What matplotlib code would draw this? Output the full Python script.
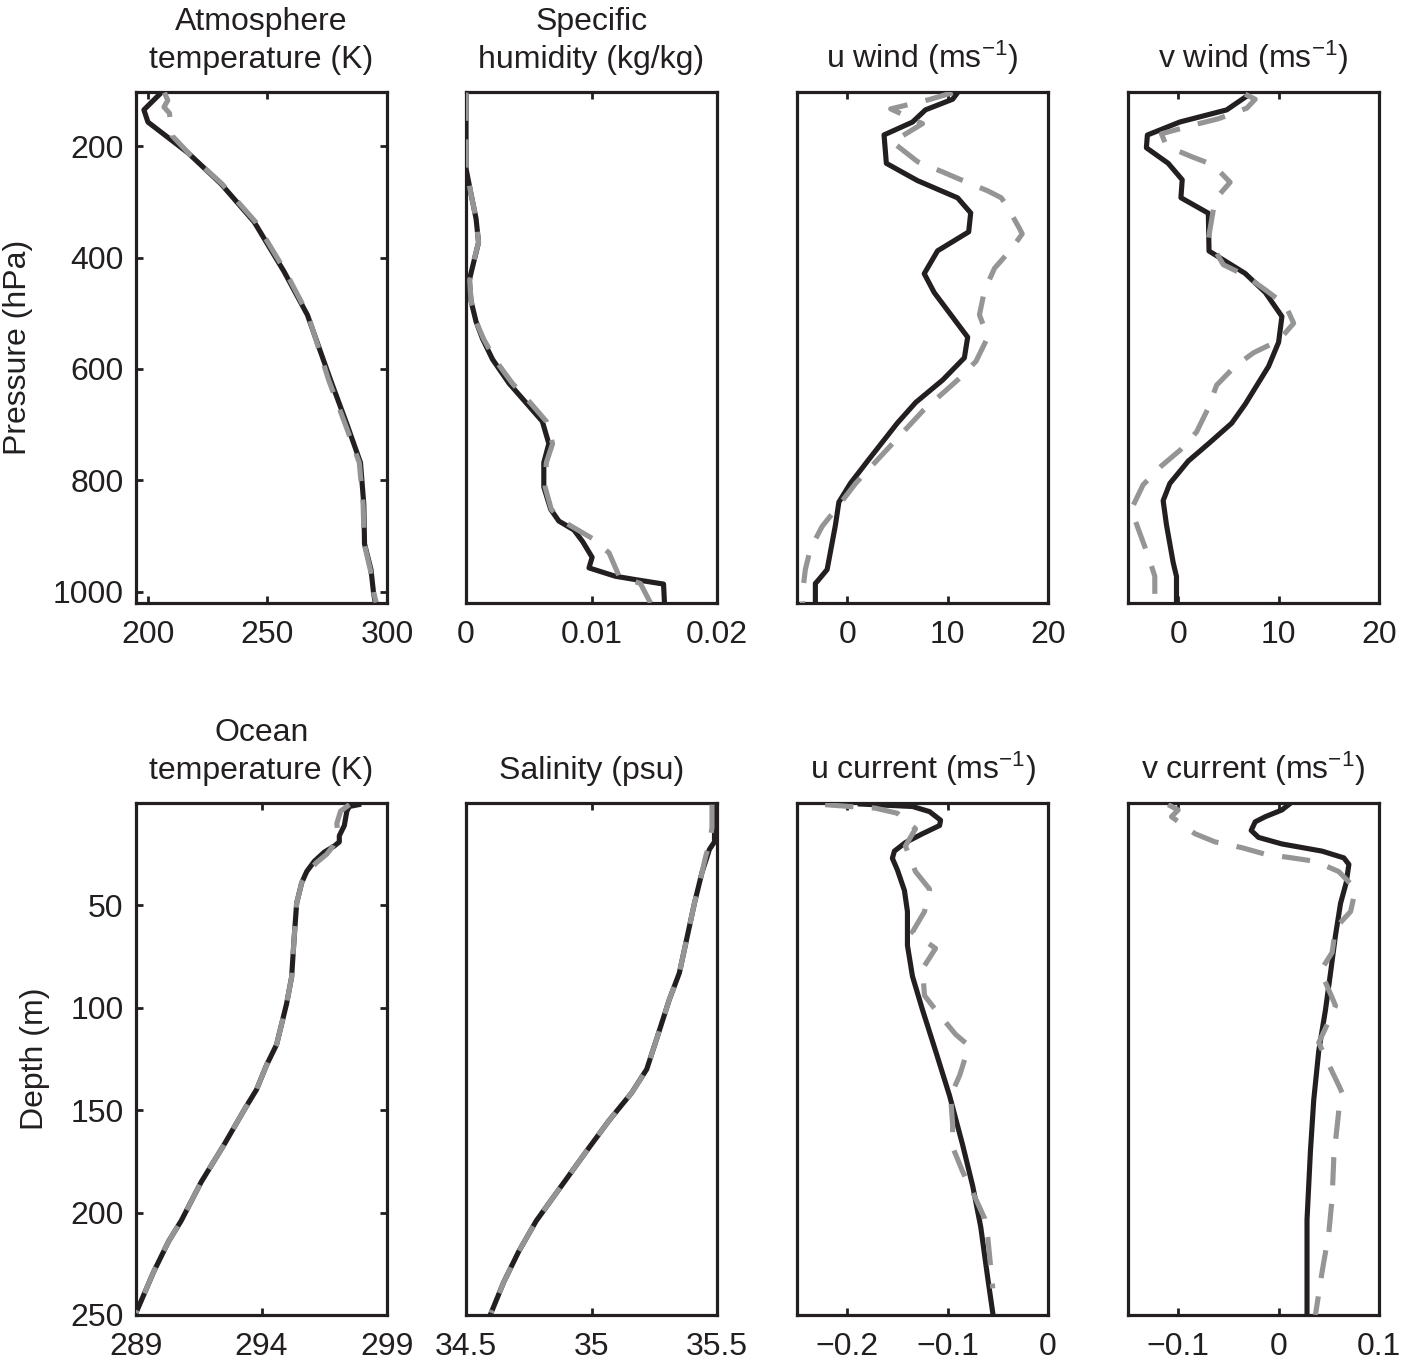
import matplotlib
matplotlib.use('Agg')
import matplotlib.pyplot as plt

plt.rcParams['font.family'] = ['Liberation Sans', 'DejaVu Sans']
plt.rcParams['mathtext.fontset'] = 'custom'
plt.rcParams['mathtext.rm'] = 'Liberation Sans'
plt.rcParams['mathtext.it'] = 'Liberation Sans'
plt.rcParams['mathtext.default'] = 'regular'

# ---------------- data ----------------
# Atmosphere temperature (K) vs pressure (hPa)
atmT_p = [104, 135, 157, 212, 268, 336, 425, 503, 620, 700, 768, 843, 914, 960, 1003, 1019]
atmT_black = [205.6, 198.3, 200.0, 216.7, 230.6, 244.4, 256.9, 266.7, 276.4, 283.3, 288.9, 290.3, 290.6, 293.3, 294.4, 295.1]
atmT_gray_p = [104, 118, 130, 141, 181, 215, 268, 336, 425, 503, 620, 700, 768, 843, 914, 960, 1003, 1019]
atmT_gray = [206.9, 208.3, 206.7, 209.0, 210.0, 217.5, 231.0, 245.0, 257.5, 267.0, 275.6, 282.6, 288.4, 290.0, 290.5, 293.0, 294.5, 295.5]

# Specific humidity (kg/kg)
q_p = [104, 240, 286, 330, 373, 416, 441, 478, 515, 546, 583, 626, 660, 694, 734, 768, 812, 852, 873, 889, 910, 938, 957, 972, 978, 986, 1022]
q_black = [0.0, 0.0, 0.0004, 0.0008, 0.001, 0.00053, 0.00026, 0.0004, 0.0008, 0.00132, 0.00212, 0.00344, 0.00476, 0.00608,
           0.0066, 0.0062, 0.0062, 0.00675, 0.0074, 0.0086, 0.0093, 0.01005, 0.0098, 0.0119, 0.0135, 0.01574, 0.01582]
q_gray_p = [104, 240, 286, 330, 373, 416, 441, 478, 515, 546, 583, 626, 660, 694, 734, 768, 812, 852, 873, 904, 930, 972, 985, 1020]
q_gray = [0.0, 0.0, 0.0004, 0.0008, 0.001, 0.0005, 0.0003, 0.0004, 0.0008, 0.0014, 0.0023, 0.0037, 0.0051, 0.0064,
          0.0069, 0.0064, 0.0063, 0.0068, 0.0077, 0.01005, 0.0114, 0.0122, 0.0139, 0.0147]

# u wind (m/s)
uw_p = [104, 116, 135, 157, 180, 231, 262, 293, 320, 354, 388, 429, 463, 543, 580, 620, 660, 697, 762, 805, 839, 880, 960, 978, 985, 1022]
uw_black = [11.0, 10.5, 7.8, 6.5, 3.67, 3.9, 7.0, 11.0, 12.3, 12.1, 9.0, 7.67, 8.67, 12.0, 11.67, 9.5, 6.83, 5.0, 2.17, 0.33,
            -0.83, -1.17, -2.0, -2.83, -3.17, -3.17]
uw_gray_p = [104.2, 116.6, 133.3, 159.8, 192.7, 227.9, 246.4, 261.8, 280.4, 292.7, 305.1, 348.3, 357.6, 385.4, 419.4, 459.6,
             502.8, 543.0, 586.2, 617.1, 675.8, 740.6, 805.5, 848.7, 882.7, 922.9, 960.0, 1009.4, 1021.7]
uw_gray = [10.5, 8.17, 4.33, 7.5, 4.5, 7.0, 9.5, 11.5, 14.0, 15.33, 15.83, 17.17, 17.43, 16.33, 14.67, 13.67, 13.17, 14.0,
           12.83, 11.17, 7.5, 4.17, 0.83, -1.0, -2.5, -3.67, -4.17, -4.5, -4.43]

# v wind (m/s)
vw_p = [110.4, 135.1, 156.8, 180.2, 203.1, 230.9, 260.5, 292.7, 320.5, 388.4, 428.6, 462.6, 505.8, 552.1, 595.4, 663.4,
        697.3, 734.4, 765.3, 805.4, 836.3, 879.6, 947.5, 972.3, 1021.7]
vw_black = [6.83, 4.83, 0.17, -3.07, -3.17, -1.0, 0.4, 0.27, 3.0, 3.07, 6.67, 8.67, 10.33, 10.0, 9.0, 6.67, 5.33, 3.0, 1.0,
            -0.83, -1.5, -1.17, -0.5, -0.17, -0.17]
vw_gray_p = [107, 116, 132, 151, 160, 178, 200, 219, 234, 265, 296, 367, 413, 432, 460, 485, 518, 549, 571, 595, 629, 670,
             713, 746, 774, 808, 852, 886, 935, 972, 1022]
vw_gray = [6.67, 7.67, 6.83, 4.0, 2.0, -1.67, -1.17, 1.33, 3.5, 5.17, 3.67, 3.0, 4.5, 6.67, 8.83, 10.67, 11.5, 10.0, 7.5,
           5.67, 3.83, 3.0, 1.83, 0.17, -1.67, -3.5, -4.67, -4.0, -3.0, -2.33, -2.33]

# Ocean temperature (K) vs depth (m)
ocT_d = [0.8, 1.7, 4, 11, 16, 19, 21, 24, 28.5, 33.5, 39, 49, 66, 85, 98, 108, 118, 128, 140, 148, 167, 185, 204, 214, 229, 247, 249]
ocT_black = [297.87, 297.5, 297.4, 297.3, 297.1, 297.1, 296.9, 296.5, 296.1, 295.8, 295.6, 295.4, 295.3, 295.2, 295.0, 294.8,
             294.6, 294.2, 293.8, 293.4, 292.5, 291.6, 290.8, 290.3, 289.7, 289.07, 289.0]
ocT_gray_d = [0.8, 4, 10, 16, 21, 25, 29, 33.5, 39, 49, 66, 85, 98, 108, 118, 128, 140, 148, 167, 185, 204, 214, 229, 247, 249]
ocT_gray = [297.5, 297.15, 297.0, 297.05, 296.85, 296.6, 296.2, 295.85, 295.6, 295.4, 295.3, 295.2, 295.0, 294.8, 294.6,
            294.2, 293.8, 293.4, 292.5, 291.6, 290.8, 290.3, 289.7, 289.07, 289.0]

# Salinity (psu)
sal_d = [0.8, 11, 19, 22.6, 34, 49, 66, 83, 96, 115, 130, 141.5, 155, 170, 187, 204, 219, 234, 249]
sal_black = [35.487, 35.49, 35.49, 35.47, 35.44, 35.41, 35.38, 35.35, 35.31, 35.26, 35.22, 35.16, 35.07, 34.98, 34.88,
             34.78, 34.71, 34.65, 34.6]
sal_gray_d = [0.8, 12, 20, 26, 34, 49, 66, 83, 96, 115, 130, 141.5, 155, 170, 187, 204, 219, 234, 249]
sal_gray = [35.48, 35.48, 35.47, 35.455, 35.44, 35.41, 35.38, 35.35, 35.31, 35.26, 35.22, 35.16, 35.07, 34.98, 34.88,
            34.78, 34.71, 34.65, 34.6]

# u current (m/s)
uc_d = [0.5, 1.7, 4.2, 8.4, 11, 15, 19.3, 23.5, 27, 32.7, 42.7, 53, 69.5, 84.6, 101, 121, 143, 167, 187, 207, 232, 249]
uc_black = [-0.187, -0.135, -0.118, -0.107, -0.108, -0.125, -0.142, -0.153, -0.155, -0.15, -0.143, -0.14, -0.14, -0.135,
            -0.125, -0.112, -0.098, -0.085, -0.075, -0.067, -0.06, -0.055]
uc_gray_d = [0.8, 1.7, 2.5, 5, 12.6, 21, 33.5, 42, 53, 63, 71, 81, 94, 101, 113, 118, 120.6, 133, 143, 157, 168, 180, 190,
             203, 212, 227, 237]
uc_gray = [-0.222, -0.198, -0.172, -0.15, -0.132, -0.142, -0.132, -0.118, -0.123, -0.135, -0.112, -0.125, -0.123, -0.112,
           -0.092, -0.08, -0.08, -0.088, -0.097, -0.095, -0.095, -0.085, -0.075, -0.063, -0.06, -0.057, -0.055]

# v current (m/s)
vc_d = [0.8, 3.4, 6.7, 9.2, 13.4, 16.8, 20, 23.5, 26.8, 30, 39, 49, 64.5, 83, 101, 121, 145, 170, 203.5, 249]
vc_black = [0.01, 0.0033, -0.0133, -0.0233, -0.0273, -0.02, 0.0033, 0.0433, 0.065, 0.07, 0.0673, 0.0617, 0.0567, 0.0517,
            0.0467, 0.04, 0.035, 0.0317, 0.0283, 0.0283]
vc_gray_d = [0.8, 3.4, 6.7, 15, 19, 21.8, 25, 26.8, 28.5, 33.5, 42, 53, 61, 73, 82, 95, 99, 104.7, 117, 126, 138, 141.5,
             150, 173, 193, 210, 229, 250]
vc_gray = [-0.11, -0.1, -0.1067, -0.0833, -0.0633, -0.0367, -0.0133, 0.0133, 0.0367, 0.06, 0.0767, 0.0717, 0.0567, 0.0533,
           0.0417, 0.0533, 0.0567, 0.0517, 0.04, 0.0483, 0.06, 0.0633, 0.06, 0.055, 0.0533, 0.05, 0.0433, 0.0367]

# titles / ticks
titles_top = ['Atmosphere\ntemperature (K)', 'Specific\nhumidity (kg/kg)', 'u wind (ms$^{\u22121}$)', 'v wind (ms$^{\u22121}$)']
titles_bot = ['Ocean\ntemperature (K)', 'Salinity (psu)', 'u current (ms$^{\u22121}$)', 'v current (ms$^{\u22121}$)']
xticks_top = [[200, 250, 300], [0, 0.01, 0.02], [0, 10, 20], [0, 10, 20]]
xtlabels_top = [['200', '250', '300'], ['0', '0.01', '0.02'], ['0', '10', '20'], ['0', '10', '20']]
xticks_bot = [[289, 294, 299], [34.5, 35, 35.5], [-0.2, -0.1, 0], [-0.1, 0, 0.1]]
xtlabels_bot = [['289', '294', '299'], ['34.5', '35', '35.5'], ['\u22120.2', '\u22120.1', '0'], ['\u22120.1', '0', '0.1']]
xlims_top = [(195, 300), (0, 0.02), (-5, 20), (-5, 20)]
xlims_bot = [(289, 299), (34.5, 35.5), (-0.25, 0), (-0.15, 0.1)]
p_ticks = [200, 400, 600, 800, 1000]
d_ticks = [50, 100, 150, 200, 250]

# ---------------- figure ----------------
W, H = 1401, 1360
fig = plt.figure(figsize=(W / 100, H / 100), dpi=100)

lefts = [136, 466, 797, 1128]
pw = 251
rows = [(92, 603), (803, 1315)]

BLACK = '#231f20'
GRAY = '#959595'
FS = 23

top_data = [(atmT_black, atmT_p, atmT_gray, atmT_gray_p),
            (q_black, q_p, q_gray, q_gray_p),
            (uw_black, uw_p, uw_gray, uw_gray_p),
            (vw_black, vw_p, vw_gray, vw_gray_p)]
bot_data = [(ocT_black, ocT_d, ocT_gray, ocT_gray_d),
            (sal_black, sal_d, sal_gray, sal_gray_d),
            (uc_black, uc_d, uc_gray, uc_gray_d),
            (vc_black, vc_d, vc_gray, vc_gray_d)]

for r, (t, b) in enumerate(rows):
    data = top_data if r == 0 else bot_data
    titles = titles_top if r == 0 else titles_bot
    xt = xticks_top if r == 0 else xticks_bot
    xtl = xtlabels_top if r == 0 else xtlabels_bot
    xl = xlims_top if r == 0 else xlims_bot
    for c in range(4):
        l = lefts[c]
        ax = fig.add_axes([l / W, 1 - b / H, pw / W, (b - t) / H])
        xb, yb, xg, yg = data[c]
        ax.plot(xb, yb, color=BLACK, lw=3.7, solid_joinstyle='round', zorder=2)
        ax.plot(xg, yg, color=GRAY, lw=3.7, dashes=(5.5, 3.6), dash_capstyle='butt', zorder=3)
        ax.set_xlim(*xl[c])
        if r == 0:
            ax.set_ylim(1020, 103)
        else:
            ax.set_ylim(250, 0)
        ax.set_xticks(xt[c])
        ax.set_xticklabels(xtl[c])
        if c == 0:
            ax.set_yticks(p_ticks if r == 0 else d_ticks)
            ax.set_yticklabels([str(v) for v in (p_ticks if r == 0 else d_ticks)])
            ax.tick_params(axis='y', right=True, left=True)
        else:
            ax.set_yticks([])
        ax.tick_params(direction='in', length=5, width=2, top=True, labelsize=FS, colors=BLACK)
        ax.tick_params(axis='x', pad=12)
        ax.tick_params(axis='y', pad=9)
        for s in ax.spines.values():
            s.set_linewidth(2.3)
            s.set_color(BLACK)
        ax.set_title(titles[c], fontsize=FS, pad=17, linespacing=1.38, color=BLACK)

fig.text(18 / W, 1 - 347 / H, 'Pressure (hPa)', rotation=90, ha='center', va='center', fontsize=FS, color=BLACK)
fig.text(35 / W, 1 - 1059 / H, 'Depth (m)', rotation=90, ha='center', va='center', fontsize=FS, color=BLACK)

fig.savefig('out.png', dpi=100, facecolor='white')
